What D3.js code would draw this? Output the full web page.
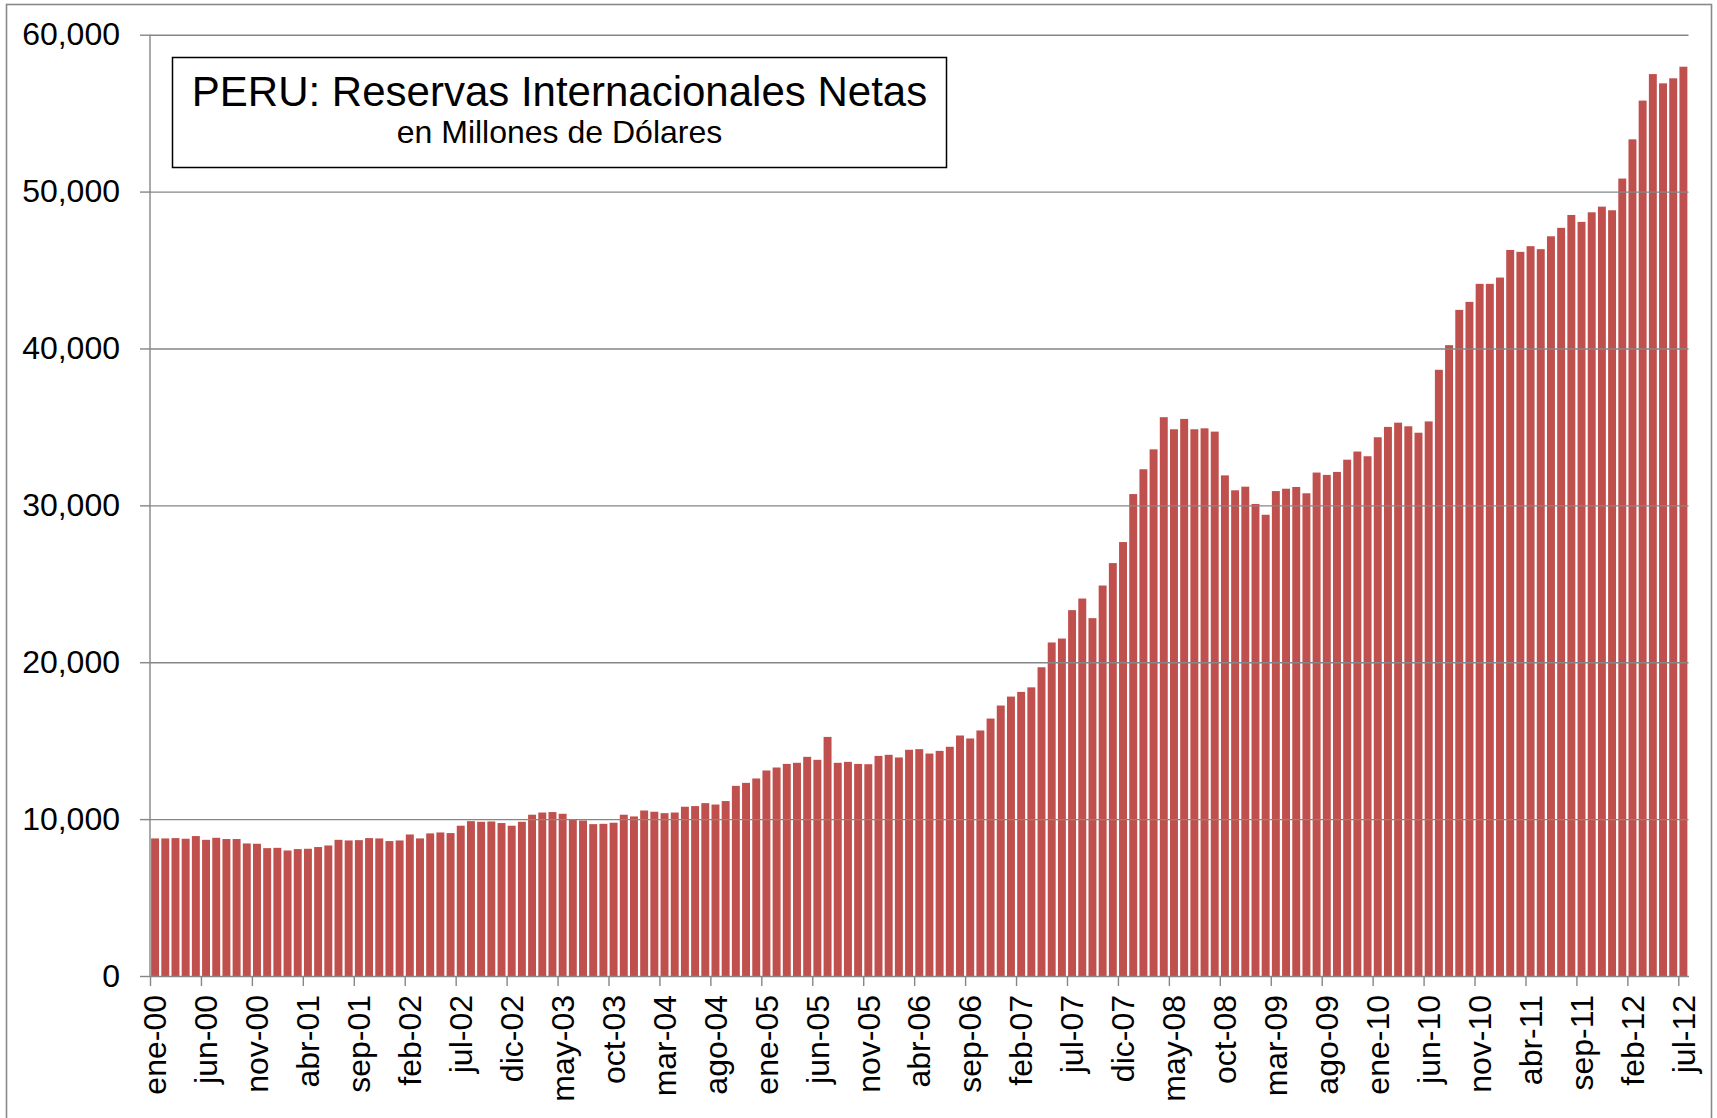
<!DOCTYPE html>
<html>
<head>
<meta charset="utf-8">
<script src="https://cdn.jsdelivr.net/npm/d3@7"></script>
<style>
  body { margin: 0; background: #fff; }
  svg { display: block; font-family: "Liberation Sans", Arial, sans-serif; }
  .axis path, .axis line { stroke: #868686; stroke-width: 1.4; }
  .axis text { fill: #000; font-size: 32px; }
  .grid line { stroke: #868686; stroke-width: 1.4; }
  .grid path { display: none; }
</style>
</head>
<body>
<div id="chart"></div>
<script>
// monthly net international reserves, millions of US$ (ene-00 .. jul-12)
const monthNames = ['ene', 'feb', 'mar', 'abr', 'may', 'jun', 'jul', 'ago', 'sep', 'oct', 'nov', 'dic'];
const years = ['00', '01', '02', '03', '04', '05', '06', '07', '08', '09', '10', '11', '12'];
const reserves = [
  8770, 8770, 8790, 8750, 8920, 8680, 8810, 8730, 8730, 8450, 8430, 8150,
  8170, 8000, 8090, 8110, 8220, 8320, 8680, 8640, 8660, 8790, 8770, 8600,
  8640, 9020, 8770, 9090, 9150, 9110, 9580, 9870, 9830, 9850, 9750, 9580,
  9830, 10280, 10420, 10450, 10340, 9980, 9910, 9680, 9700, 9770, 10280, 10170,
  10550, 10470, 10380, 10420, 10790, 10830, 11020, 10930, 11150, 12120, 12310, 12590,
  13100, 13290, 13520, 13590, 13970, 13780, 15240, 13590, 13650, 13520, 13500, 14030,
  14100, 13930, 14420, 14460, 14180, 14350, 14610, 15330, 15140, 15650, 16410, 17240,
  17810, 18110, 18400, 19680, 21260, 21510, 23320, 24060, 22810, 24890, 26320, 27660,
  30720, 32300, 33570, 35620, 34850, 35510, 34850, 34910, 34700, 31910, 30960, 31190,
  30090, 29400, 30910, 31060, 31170, 30770, 32090, 31940, 32130, 32910, 33430, 33130,
  34340, 35000, 35270, 35040, 34630, 35350, 38640, 40210, 42460, 42970, 44120, 44120,
  44520, 46280, 46160, 46520, 46330, 47150, 47690, 48510, 48070, 48680, 49040, 48810,
  50830, 53330, 55800, 57490, 56900, 57220, 57960
];
const yTicks = [0, 10000, 20000, 30000, 40000, 50000, 60000];
const labelEvery = 5;

const categories = [];
years.forEach(yy => monthNames.forEach(m => categories.push(m + '-' + yy)));
categories.length = reserves.length;

const width = 1717, height = 1118;
const margin = {top: 34.7, bottom: 142, left: 150, right: 28.5};
const plot_width = width - margin.left - margin.right;
const plot_height = height - margin.top - margin.bottom;

const svg = d3.select('#chart')
  .append('svg')
    .attr('width', width)
    .attr('height', height);

// outer chart frame
svg.append('rect')
  .attr('x', 6.5)
  .attr('y', 4.5)
  .attr('width', 1705)
  .attr('height', 1130)
  .attr('fill', 'none')
  .attr('stroke', '#898989')
  .attr('stroke-width', 1.6);

const g = svg.append('g')
  .attr('transform', 'translate(' + margin.left + ',' + margin.top + ')');

const x = d3.scaleBand()
  .domain(categories)
  .range([0, plot_width])
  .paddingInner(0.22)
  .paddingOuter(0.11);

// category boundaries, for tick marks
const xEdge = d3.scaleLinear()
  .domain([0, categories.length])
  .range([0, plot_width]);

const y = d3.scaleLinear()
  .domain([0, 60000])
  .range([plot_height, 0]);

g.selectAll('rect.bar')
  .data(reserves)
  .enter()
  .append('rect')
    .attr('class', 'bar')
    .attr('x', (d, i) => x(categories[i]))
    .attr('y', d => y(d))
    .attr('width', x.bandwidth())
    .attr('height', d => y(0) - y(d))
    .attr('fill', '#C0504D');

g.append('g')
  .attr('class', 'grid')
  .call(d3.axisLeft(y).tickValues(yTicks.slice(1)).tickSize(-plot_width).tickFormat(''));

const yAxis = g.append('g')
  .attr('class', 'axis')
  .call(d3.axisLeft(y).tickValues(yTicks).tickSize(10).tickSizeOuter(0).tickPadding(20).tickFormat(d3.format(',')));
yAxis.select('.domain').remove();
yAxis.append('line')
  .attr('x1', 0).attr('x2', 0)
  .attr('y1', 0).attr('y2', plot_height)
  .attr('stroke', '#868686')
  .attr('stroke-width', 1.4);

const tickIdx = d3.range(0, categories.length, labelEvery);

g.append('g')
  .attr('class', 'axis')
  .attr('transform', 'translate(0,' + plot_height + ')')
  .call(d3.axisBottom(xEdge).tickValues(tickIdx).tickSize(10).tickSizeOuter(0).tickFormat(''));

const xLabels = g.append('g')
  .attr('class', 'axis')
  .attr('transform', 'translate(0,' + plot_height + ')')
  .call(d3.axisBottom(x).tickValues(tickIdx.map(i => categories[i])).tickSize(0));
xLabels.select('.domain').remove();
xLabels.selectAll('text')
  .attr('transform', 'rotate(-90)')
  .attr('text-anchor', 'end')
  .attr('x', -19)
  .attr('y', 0)
  .attr('dy', '0.35em');

// title box
const title = svg.append('g');
title.append('rect')
  .attr('x', 172.5)
  .attr('y', 57.5)
  .attr('width', 774)
  .attr('height', 110)
  .attr('fill', '#fff')
  .attr('stroke', '#000')
  .attr('stroke-width', 1.5);
title.append('text')
  .attr('x', 559.5)
  .attr('y', 106)
  .attr('text-anchor', 'middle')
  .style('font-size', '42px')
  .text('PERU: Reservas Internacionales Netas');
title.append('text')
  .attr('x', 559.5)
  .attr('y', 143)
  .attr('text-anchor', 'middle')
  .style('font-size', '32px')
  .text('en Millones de Dólares');
</script>
</body>
</html>
